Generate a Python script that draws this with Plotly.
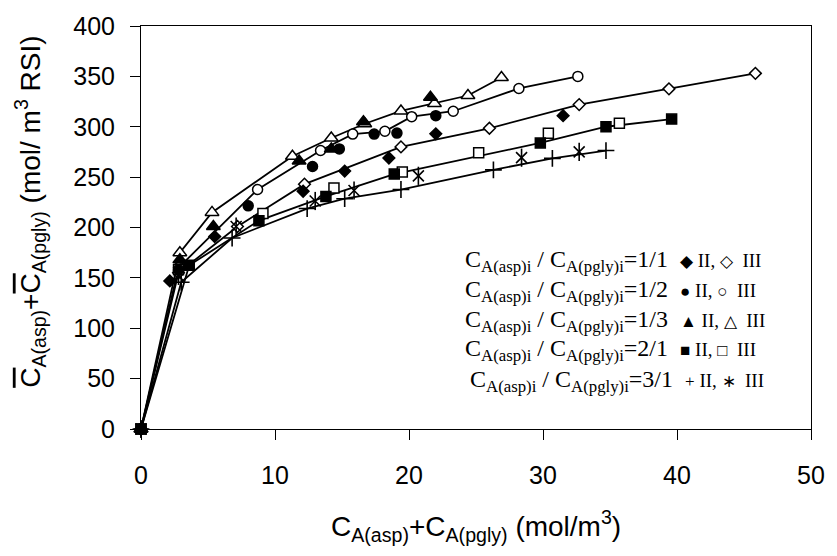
import plotly.graph_objects as go

# ---- data ----
x_11_II = [0, 2.15, 5.5, 12.1, 15.2, 18.5, 22.0, 31.5]
y_11_II = [0, 147, 191, 236, 256, 269, 293, 311]
x_11_III = [0, 2.8, 7.2, 12.2, 19.4, 26.0, 32.7, 39.4, 45.85]
y_11_III = [0, 155, 201, 243, 280, 298.5, 322, 337.6, 353]

x_12_II = [0, 2.8, 8.0, 12.8, 14.8, 17.4, 19.1, 22.0]
y_12_II = [0, 158, 221.5, 260.5, 278, 292.7, 293.7, 311]
x_12_III = [0, 2.8, 8.7, 13.4, 15.8, 18.2, 20.2, 23.3, 28.2, 32.6]
y_12_III = [0, 160, 237.7, 276.4, 292.7, 295.5, 310, 315.4, 338, 350]

x_13_II = [0, 2.9, 5.4, 11.8, 14.2, 16.6, 21.6]
y_13_II = [0, 168, 201, 266, 278, 305, 329.4]
x_13_III = [0, 2.9, 5.3, 11.3, 14.2, 16.7, 19.4, 21.9, 24.4, 26.9]
y_13_III = [0, 175, 215, 270.8, 288.8, 303, 315.7, 323, 331, 348.9]

x_21_II = [0, 3.6, 8.8, 13.8, 18.9, 29.8, 34.7, 39.6]
y_21_II = [0, 162.5, 206.8, 230.8, 253, 283.9, 300, 307.6]
x_21_III = [0, 2.8, 9.1, 14.4, 19.5, 25.2, 30.4, 35.7]
y_21_III = [0, 158, 214, 239.3, 255, 274.1, 293.6, 303.4]

x_31_II = [0, 3.0, 6.8, 12.4, 15.2, 19.4, 26.3, 30.7, 34.7]
y_31_II = [0, 145.6, 189.6, 218.8, 228.6, 237.7, 257.2, 268.6, 276.4]
x_31_III = [0, 2.8, 7.1, 13.0, 15.9, 20.7, 28.4, 32.7]
y_31_III = [0, 152, 201, 226.3, 236.7, 251.3, 269.3, 275.1]

x_ticks = [0, 10, 20, 30, 40, 50]
y_ticks = [0, 50, 100, 150, 200, 250, 300, 350, 400]

ratios = ["1/1", "1/2", "1/3", "2/1", "3/1"]

fig = go.Figure()

LINE = dict(color="black", width=1.8)

# connecting lines
for xs, ys in [(x_11_III, y_11_III), (x_12_III, y_12_III), (x_13_III, y_13_III),
               (x_21_II, y_21_II), (x_31_II, y_31_II)]:
    fig.add_trace(go.Scatter(x=xs, y=ys, mode="lines", line=LINE,
                             showlegend=False, hoverinfo="skip", cliponaxis=False))

def mk(xs, ys, symbol, size, fill, lw=1.5):
    fig.add_trace(go.Scatter(
        x=xs, y=ys, mode="markers", showlegend=False, cliponaxis=False,
        marker=dict(symbol=symbol, size=size, color=fill,
                    line=dict(color="black", width=lw))))

# open (III) markers
mk(x_11_III, y_11_III, "diamond", 9, "white")
mk(x_12_III, y_12_III, "circle", 10, "white")
mk(x_13_III, y_13_III, "triangle-up", 12, "white")
mk(x_21_III, y_21_III, "square", 10, "white")
mk(x_31_III, y_31_III, "x-thin-open", 11, "black", 1.6)
mk(x_31_III, y_31_III, "line-ns-open", 13, "black", 1.6)
# filled (II) markers
mk(x_11_II, y_11_II, "diamond", 9, "black")
mk(x_12_II, y_12_II, "circle", 10, "black")
mk(x_13_II, y_13_II, "triangle-up", 12, "black")
mk(x_21_II, y_21_II, "square", 10, "black")
mk(x_31_II, y_31_II, "cross-thin-open", 12, "black", 1.6)

AX = dict(showline=True, linecolor="black", linewidth=1, mirror=True,
          ticks="outside", ticklen=10, tickcolor="black", tickwidth=1,
          showgrid=False, zeroline=False,
          tickfont=dict(family="Liberation Sans, Arial", size=25, color="black"))

fig.update_xaxes(range=[0, 50], tickvals=x_ticks, ticklabelstandoff=14, **AX)
fig.update_yaxes(range=[0, 400], tickvals=y_ticks, ticklabelstandoff=10, **AX)

ol = "<span style='text-decoration:overline'>C</span>"
ytitle = (ol + "<sub>A(asp)</sub>+" + ol + "<sub>A(pgly)</sub> (mol/ m<sup>3</sup> RSI)")
xtitle = "C<sub>A(asp)</sub>+C<sub>A(pgly)</sub> (mol/m<sup>3</sup>)"

annotations = [
    dict(text=xtitle, x=0.5, y=-0.24, xref="paper", yref="paper",
         xanchor="center", yanchor="middle", showarrow=False,
         font=dict(family="Liberation Sans, Arial", size=28, color="black")),
    dict(text=ytitle, x=-0.165, y=0.54, xref="paper", yref="paper",
         xanchor="center", yanchor="middle", showarrow=False, textangle=-90,
         font=dict(family="Liberation Sans, Arial", size=28, color="black")),
]

syms = [("\u25C6", "\u25C7"), ("\u25CF", "\u25CB"), ("\u25B2", "\u25B3"),
        ("\u25A0", "\u25A1"), ("+", "\u2217")]
row_y = [258, 289, 319, 349, 380]
row_x = [466, 466, 466, 466, 471]
for r, (s2, s3), py, px in zip(ratios, syms, row_y, row_x):
    t = ("C<sub>A(asp)i</sub> / C<sub>A(pgly)i</sub>=" + r +
         "  <span style='font-size:17px'>" + s2 + "</span>"
         "<span style='font-size:19px'> II, </span>"
         "<span style='font-size:17px'>" + s3 + "</span>"
         "<span style='font-size:19px'>  III</span>")
    annotations.append(dict(
        text=t, x=(px - 141) / 676, y=(429 - py) / 410, xref="paper", yref="paper",
        xanchor="left", yanchor="middle", showarrow=False,
        font=dict(family="Liberation Serif, Times New Roman", size=24, color="black")))

fig.update_layout(
    width=837, height=556,
    margin=dict(l=141, r=20, t=19, b=127),
    paper_bgcolor="white", plot_bgcolor="white",
    annotations=annotations,
    showlegend=False,
)

fig.write_html("out.html")
